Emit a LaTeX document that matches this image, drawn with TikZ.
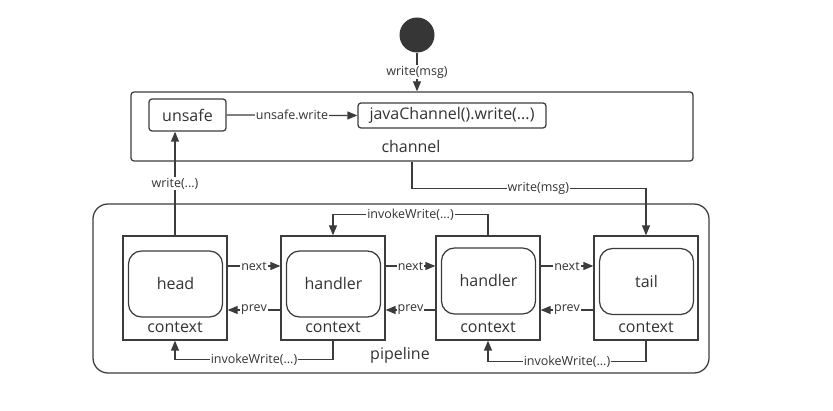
\documentclass[tikz,border=0pt]{standalone}
\usepackage{fontspec}
\setmainfont{Open Sans}
\usetikzlibrary{arrows.meta}
\definecolor{ink}{HTML}{3C3C3C}
\definecolor{txt}{HTML}{333333}
\tikzset{
  box/.style={draw=ink, line width=1.25pt, rectangle, inner sep=0pt},
  ctxbox/.style={box, minimum width=104pt, minimum height=104pt},
  inbox/.style={box, rounded corners=13pt, minimum width=94pt, minimum height=66pt, font=\fontsize{16}{18}\selectfont, text=txt},
  big/.style={font=\fontsize{16}{18}\selectfont, text=txt},
  lbl/.style={font=\fontsize{12.5}{14}\selectfont, text=txt, fill=white, inner sep=1pt},
  conn/.style={draw=ink, line width=1.25pt, -{Triangle[length=10pt,width=8pt]}},
}
\begin{document}
\begin{tikzpicture}[x=1pt,y=-1pt]
\useasboundingbox (0,0) rectangle (833,411);
% start
\node[circle, fill=ink!90!black, minimum size=35pt, inner sep=0pt] (start) at (417,35) {};
% channel
\node[box, rounded corners=3pt, minimum width=562pt, minimum height=69pt] (channel) at (412,126.5) {};
\node[big] (chlbl) at (411,147) {channel};
\node[box, rounded corners=3pt, minimum width=77pt, minimum height=32pt, big] (unsafe) at (187.5,115) {unsafe};
\node[box, rounded corners=3pt, minimum width=188pt, minimum height=25pt, big] (java) at (452,115.5) {javaChannel().write(...)};
% pipeline
\node[box, rounded corners=15pt, minimum width=616pt, minimum height=169pt] (pipe) at (401,288.5) {};
\node[big] (pipelbl) at (400,355) {pipeline};
% contexts
\node[ctxbox] (ctx1) at (175,288) {};
\node[ctxbox] (ctx2) at (333,288) {};
\node[ctxbox] (ctx3) at (488,288) {};
\node[ctxbox] (ctx4) at (646,288) {};
\node[inbox] (head) at (175.5,284) {head};
\node[inbox] (h1) at (333.5,284) {handler};
\node[inbox] (h2) at (488.5,281) {handler};
\node[inbox] (tail) at (646.5,281.5) {tail};
\node[big] (c1) at (175,327.5) {context};
\node[big] (c2) at (333,327.5) {context};
\node[big] (c3) at (488,327.5) {context};
\node[big] (c4) at (646,327.5) {context};
% connectors
\draw[conn] (start.south) -- node[lbl]{write(msg)} (channel.north -| start);
\draw[conn] (unsafe.east) -- node[lbl]{unsafe.write} (java.west);
\draw[conn] (ctx1.north) -- node[lbl]{write(...)} (ctx1.north |- unsafe.south);
\draw[conn] (channel.south) -- ++(0,27) -| node[lbl, pos=0.27]{write(msg)} (ctx4.north);
\foreach \a/\b in {ctx1/ctx2, ctx2/ctx3, ctx3/ctx4}{
  \draw[conn] ([yshift=22pt]\a.east) -- node[lbl]{next} ([yshift=22pt]\b.west);
  \draw[conn] ([yshift=-22pt]\b.west) -- node[lbl]{prev} ([yshift=-22pt]\a.east);
}
\draw[conn] (ctx2.south) -- ++(0,19) -| node[lbl, pos=0.25]{invokeWrite(...)} (ctx1.south);
\draw[conn] (ctx3.north) -- ++(0,-21) -| node[lbl, pos=0.25]{invokeWrite(...)} (ctx2.north);
\draw[conn] (ctx4.south) -- ++(0,21) -| node[lbl, pos=0.25]{invokeWrite(...)} (ctx3.south);
\end{tikzpicture}
\end{document}
